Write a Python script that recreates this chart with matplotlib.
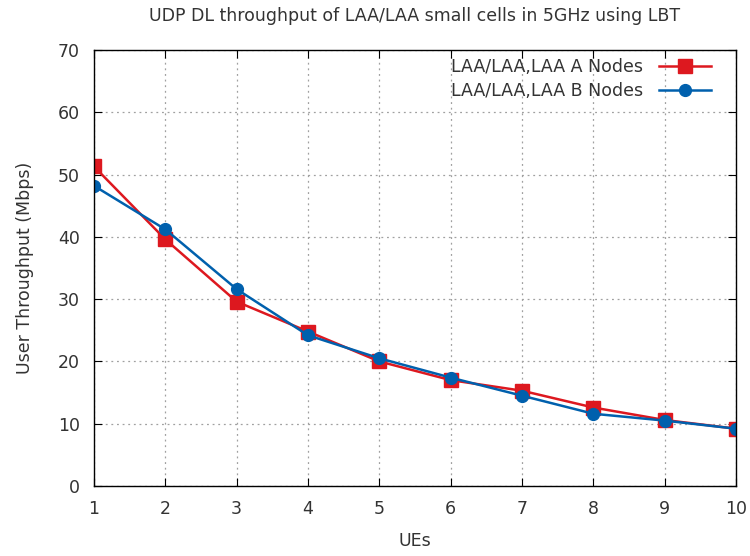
import numpy as np
import matplotlib.pyplot as plt

plt.rcParams['font.family'] = ['DejaVu Sans']

ues = [1, 2, 3, 4, 5, 6, 7, 8, 9, 10]
laa_a = [51.3, 39.6, 29.6, 24.8, 20.0, 17.0, 15.3, 12.6, 10.6, 9.2]
laa_b = [48.2, 41.2, 31.6, 24.2, 20.5, 17.4, 14.5, 11.6, 10.5, 9.2]

fig = plt.figure(figsize=(7.5, 5.56), dpi=100)
ax = fig.add_axes([0.1253, 0.1259, 0.8560, 0.7842])

ax.plot(ues, laa_a, color="#dd181f", lw=1.8, marker="s", ms=10,
        label="LAA/LAA,LAA A Nodes")
ax.plot(ues, laa_b, color="#0060ad", lw=1.8, marker="o", ms=8.5,
        label="LAA/LAA,LAA B Nodes")

ax.set_xlim(1, 10)
ax.set_ylim(0, 70)
ax.set_xticks(np.arange(1, 11))
ax.set_yticks(np.arange(0, 71, 10))
ax.tick_params(direction="in", top=True, right=True, length=6, labelsize=12.5,
               colors="#000000", labelcolor="#333333")
ax.tick_params(axis="x", pad=10)
ax.tick_params(axis="y", pad=10)
ax.grid(True, color="#a0a0a0", linestyle=(0, (1.5, 3)), lw=0.9)
for s in ax.spines.values():
    s.set_linewidth(1.0)

ax.set_xlabel("UEs", fontsize=12.5, labelpad=10, color="#333333")
ax.set_ylabel("User Throughput (Mbps)", fontsize=12.5, labelpad=17, color="#333333")
ax.set_title("UDP DL throughput of LAA/LAA small cells in 5GHz using LBT",
             fontsize=12.5, pad=21, color="#333333")

leg = ax.legend(loc="upper right", bbox_to_anchor=(0.9713, 0.9968),
                frameon=False, markerfirst=False,
                fontsize=12.5, handlelength=3.0, borderaxespad=0,
                labelspacing=0.35, handletextpad=0.9)
for t in leg.get_texts():
    t.set_color("#333333")

fig.savefig("out.png", dpi=100)
